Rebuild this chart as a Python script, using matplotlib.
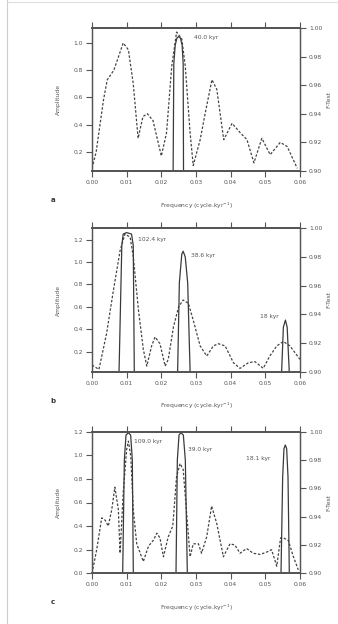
import matplotlib
matplotlib.use("Agg")
import matplotlib.pyplot as plt
import numpy as np
from matplotlib.lines import Line2D

# amplitude spectra (dashed)
amp_a_f = [0.0, 0.0012, 0.0033, 0.0044, 0.0063, 0.0090, 0.0105, 0.0119, 0.0133, 0.0147,
           0.0160, 0.0176, 0.0200, 0.0215, 0.0230, 0.0244, 0.0259, 0.0269, 0.0283, 0.0292,
           0.0312, 0.0327, 0.0346, 0.0360, 0.0380, 0.0404, 0.0428, 0.0447, 0.0467, 0.0490,
           0.0514, 0.0543, 0.0563, 0.0592]
amp_a = [0.08, 0.20, 0.58, 0.73, 0.80, 1.00, 0.95, 0.70, 0.30, 0.46,
         0.48, 0.43, 0.17, 0.34, 0.83, 1.08, 1.03, 0.83, 0.34, 0.10,
         0.29, 0.49, 0.73, 0.66, 0.29, 0.41, 0.34, 0.29, 0.12, 0.30,
         0.18, 0.27, 0.24, 0.08]

amp_b_f = [0.0, 0.0020, 0.0042, 0.0062, 0.0081, 0.0095, 0.0110, 0.0119, 0.0134, 0.0148,
           0.0158, 0.0172, 0.0182, 0.0196, 0.0211, 0.0220, 0.0235, 0.0250, 0.0263, 0.0278,
           0.0292, 0.0312, 0.0331, 0.0350, 0.0364, 0.0384, 0.0408, 0.0427, 0.0451, 0.0470,
           0.0494, 0.0513, 0.0533, 0.0552, 0.0571, 0.0600]
amp_b = [0.08, 0.04, 0.36, 0.75, 1.10, 1.25, 1.22, 1.05, 0.57, 0.22,
         0.07, 0.25, 0.33, 0.27, 0.07, 0.13, 0.42, 0.60, 0.66, 0.63,
         0.48, 0.25, 0.16, 0.25, 0.27, 0.25, 0.10, 0.05, 0.10, 0.11,
         0.05, 0.16, 0.25, 0.29, 0.25, 0.13]

amp_c_f = [0.0, 0.00135, 0.0028, 0.0038, 0.0047, 0.0057, 0.0066, 0.0076, 0.0081, 0.0090,
           0.0100, 0.0105, 0.0112, 0.0119, 0.0129, 0.0148, 0.0163, 0.0177, 0.0187, 0.0196,
           0.0206, 0.0220, 0.0233, 0.0244, 0.0254, 0.0263, 0.0273, 0.0283, 0.0292, 0.0307,
           0.0316, 0.0331, 0.0345, 0.0360, 0.0379, 0.0398, 0.0412, 0.0427, 0.0446, 0.0465,
           0.0485, 0.0504, 0.0518, 0.0533, 0.0544, 0.0552, 0.0566, 0.0581, 0.0595]
amp_c = [0.0, 0.20, 0.47, 0.45, 0.40, 0.54, 0.73, 0.54, 0.17, 0.68,
         1.05, 1.12, 0.99, 0.54, 0.25, 0.10, 0.23, 0.28, 0.34, 0.30,
         0.14, 0.31, 0.40, 0.82, 0.93, 0.88, 0.51, 0.14, 0.25, 0.25,
         0.17, 0.31, 0.57, 0.42, 0.14, 0.25, 0.24, 0.17, 0.21, 0.17,
         0.16, 0.18, 0.20, 0.06, 0.30, 0.30, 0.28, 0.14, 0.03]

# F-test confidence (solid), peaks only, nan separates peaks
ft_a_f = [0.0234, 0.0236, 0.0240, 0.0245, 0.0250, 0.0255, 0.0260, 0.0263, 0.0264]
ft_a = [0.90, 0.975, 0.988, 0.993, 0.994, 0.993, 0.988, 0.975, 0.90]

ft_b_f = [0.0078, 0.0086, 0.0090, 0.0100, 0.0114, 0.0119, 0.0122, np.nan,
          0.0247, 0.0252, 0.0259, 0.0263, 0.0269, 0.0276, 0.0283, np.nan,
          0.0547, 0.0552, 0.0558, 0.0563, 0.0569]
ft_b = [0.90, 0.988, 0.996, 0.997, 0.996, 0.988, 0.90, np.nan,
        0.90, 0.962, 0.982, 0.984, 0.980, 0.962, 0.90, np.nan,
        0.90, 0.931, 0.936, 0.931, 0.90]

ft_c_f = [0.00885, 0.00933, 0.00981, 0.01048, 0.01115, 0.01163, 0.01192, np.nan,
          0.02423, 0.02462, 0.0251, 0.02567, 0.02635, 0.02692, 0.0275, np.nan,
          0.05452, 0.0550, 0.05538, 0.05577, 0.05615, 0.05654, 0.05692]
ft_c = [0.90, 0.980, 0.9976, 0.9993, 0.9976, 0.980, 0.90, np.nan,
        0.90, 0.980, 0.9976, 0.9993, 0.9976, 0.980, 0.90, np.nan,
        0.90, 0.968, 0.988, 0.9906, 0.988, 0.968, 0.90]

labels_a = [("40.0 kyr", 0.0295, 1.04)]
labels_b = [("102.4 kyr", 0.0132, 1.20), ("38.6 kyr", 0.0285, 1.06), ("18 kyr", 0.0485, 0.51)]
labels_c = [("109.0 kyr", 0.0122, 1.12), ("39.0 kyr", 0.0277, 1.05), ("18.1 kyr", 0.0445, 0.97)]

W, H = 338, 624
fig = plt.figure(figsize=(W / 100, H / 100), dpi=100)
fig.patch.set_facecolor("white")

# faint page frame at left / top
fig.add_artist(Line2D([7 / W, 7 / W], [0, 1], color="#cccccc", lw=0.8))
fig.add_artist(Line2D([7 / W, 1], [1 - 1.5 / H, 1 - 1.5 / H], color="#dddddd", lw=0.8))

lc = "#3a3a3a"
tc = "#555555"
fs = 4.3

panels = [
    ("a", 28, 171, amp_a_f, amp_a, ft_a_f, ft_a, (0.06, 1.11), [0.2, 0.4, 0.6, 0.8, 1.0], labels_a),
    ("b", 228.3, 371.7, amp_b_f, amp_b, ft_b_f, ft_b, (0.02, 1.30), [0.2, 0.4, 0.6, 0.8, 1.0, 1.2], labels_b),
    ("c", 431.7, 573.3, amp_c_f, amp_c, ft_c_f, ft_c, (0.0, 1.2), [0.0, 0.2, 0.4, 0.6, 0.8, 1.0, 1.2], labels_c),
]

for letter, top, bot, af, av, ff, fv, ylim, yt, labs in panels:
    ax = fig.add_axes([92 / W, 1 - bot / H, 208 / W, (bot - top) / H])
    ax2 = ax.twinx()

    ax.plot(af, av, color="#444444", lw=0.9, dashes=(2.0, 1.4))
    ax2.plot(ff, fv, color=lc, lw=0.9)

    ax.set_xlim(0, 0.06)
    ax.set_ylim(*ylim)
    ax2.set_ylim(0.90, 1.00)
    ax.set_xticks([0.0, 0.01, 0.02, 0.03, 0.04, 0.05, 0.06])
    ax.set_xticklabels(["%.2f" % t for t in ax.get_xticks()])
    ax.set_yticks(yt)
    ax.set_yticklabels(["%.1f" % t for t in yt])
    ax2.set_yticks([0.90, 0.92, 0.94, 0.96, 0.98, 1.00])
    ax2.set_yticklabels(["0.90", "0.92", "0.94", "0.96", "0.98", "1.00"])

    ax.tick_params(axis="both", direction="out", length=4, width=0.8, pad=2.5,
                   labelsize=fs, colors=tc, top=True, labeltop=False)
    ax2.tick_params(axis="y", direction="out", length=4, width=0.8, pad=2.5,
                    labelsize=fs, colors=tc)
    for a in (ax, ax2):
        for s in a.spines.values():
            s.set_color("#555555")
            s.set_linewidth(0.9)
        a.spines["top"].set_linewidth(1.3)
        a.spines["bottom"].set_linewidth(1.3)

    ax.set_xlabel("Frequency (cycle.kyr$^{-1}$)", fontsize=fs, color=tc, labelpad=11)
    ax.set_ylabel("Amplitude", fontsize=fs, color=tc, labelpad=9)
    ax2.set_ylabel("F-Test", fontsize=fs, color=tc, labelpad=3)

    for txt, x, y in labs:
        ax.text(x, y, txt, fontsize=fs, color=tc, ha="left", va="center")

    fig.text(53 / W, 1 - (bot + 29) / H, letter, fontsize=5, color="#333333",
             fontweight="bold", ha="center", va="center")

fig.savefig("out.png", dpi=100)
